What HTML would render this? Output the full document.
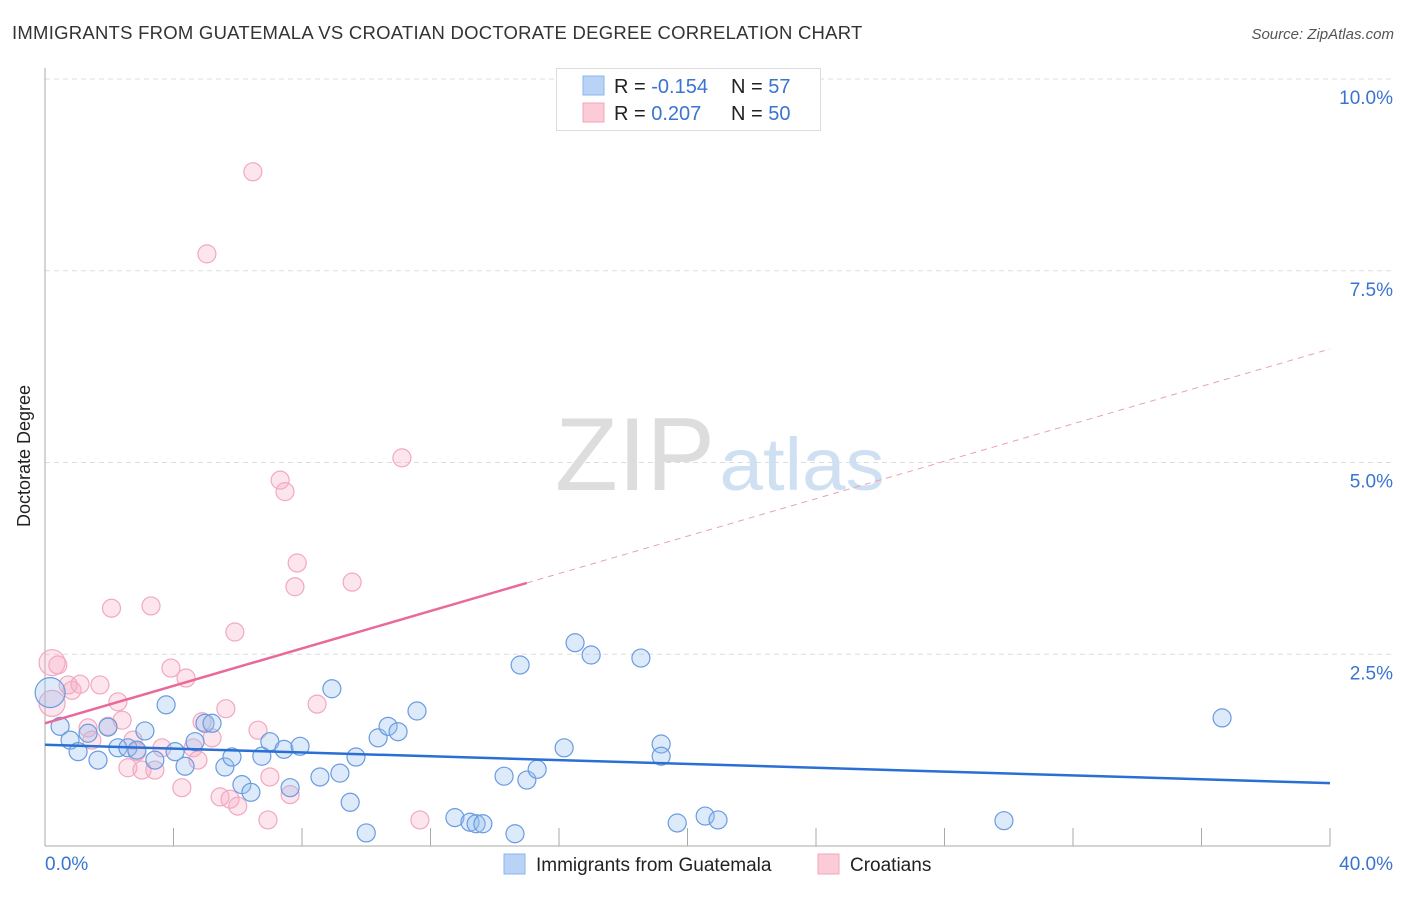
<!DOCTYPE html>
<html><head><meta charset="utf-8"><style>
body{margin:0;background:#fff;font-family:"Liberation Sans",sans-serif;}
svg text{font-family:"Liberation Sans",sans-serif;}
</style></head><body>
<svg id="chart" width="1406" height="892">
<text x="12" y="39" font-size="18.5" letter-spacing="0.25" fill="#333">IMMIGRANTS FROM GUATEMALA VS CROATIAN DOCTORATE DEGREE CORRELATION CHART</text>
<text x="1394" y="39" font-size="15" fill="#555" font-style="italic" text-anchor="end">Source: ZipAtlas.com</text>
<text x="30" y="456" font-size="18" fill="#222" text-anchor="middle" transform="rotate(-90 30 456)">Doctorate Degree</text>
<g id="grid"></g>
<g><text x="635" y="490" font-size="104" fill="#ddd" font-family="Liberation Serif" text-anchor="middle" textLength="160" lengthAdjust="spacingAndGlyphs">ZIP</text><text x="802" y="490" font-size="74" fill="#cfe0f3" text-anchor="middle" textLength="165" lengthAdjust="spacingAndGlyphs">atlas</text></g>
<g id="marks"></g>
<g>
<rect x="556.5" y="68.5" width="264" height="62" fill="#fff" stroke="#ddd"/>
<rect x="583" y="76" width="21" height="19" fill="#b9d3f6" stroke="#8fb5ea"/>
<rect x="583" y="103" width="21" height="19" fill="#fccbd8" stroke="#f2a5bb"/>
<text x="614" y="93" font-size="20" fill="#222">R = <tspan fill="#3a74d0">-0.154</tspan></text>
<text x="731" y="93" font-size="20" fill="#222">N = <tspan fill="#3a74d0"> 57</tspan></text>
<text x="614" y="120" font-size="20" fill="#222">R = <tspan fill="#3a74d0"> 0.207</tspan></text>
<text x="731" y="120" font-size="20" fill="#222">N = <tspan fill="#3a74d0">50</tspan></text>
</g>
<g>
<rect x="504" y="854" width="21" height="20" fill="#b9d3f6" stroke="#8fb5ea"/>
<text x="536" y="871" font-size="19" fill="#222">Immigrants from Guatemala</text>
<rect x="818" y="854" width="21" height="20" fill="#fccbd8" stroke="#f2a5bb"/>
<text x="850" y="871" font-size="19" fill="#222">Croatians</text>
</g>
</svg>
<script>
const xTicks=[0,40];
const yTicks=[2.5,5.0,7.5,10.0];
const blueX=[0.16,0.47,0.78,1.03,1.65,1.34,1.96,2.27,2.58,2.86,3.11,3.42,3.77,4.05,4.36,4.67,4.98,5.2,5.6,5.82,6.13,6.41,6.75,7.0,7.44,7.63,7.94,8.56,8.93,9.18,9.5,9.68,10.0,10.37,10.68,10.99,11.58,12.76,13.23,13.42,13.63,14.29,14.63,14.79,15.0,15.32,16.16,16.5,17.0,18.55,19.18,19.18,19.68,20.55,20.95,29.85,36.64];
const blueY=[2.0,1.56,1.38,1.23,1.12,1.47,1.55,1.28,1.28,1.25,1.5,1.12,1.84,1.23,1.04,1.36,1.6,1.6,1.03,1.16,0.8,0.7,1.17,1.36,1.26,0.76,1.3,0.9,2.05,0.95,0.57,1.16,0.17,1.41,1.56,1.49,1.76,0.37,0.31,0.29,0.29,0.91,0.16,2.36,0.86,1.0,1.28,2.65,2.49,2.45,1.33,1.17,0.3,0.39,0.34,0.33,1.67];
const pinkX=[0.22,0.4,0.72,0.84,1.09,0.22,1.34,1.46,1.71,1.96,2.07,2.27,2.4,2.58,2.74,2.86,3.02,3.3,3.42,3.64,3.92,4.26,4.39,4.61,4.76,4.89,5.04,5.2,5.45,5.63,5.76,5.91,6.0,6.47,6.63,6.94,7.0,7.32,7.47,7.63,7.78,7.85,8.47,9.56,11.11,11.67];
const pinkY=[2.39,2.36,2.1,2.03,2.11,1.86,1.54,1.38,2.1,1.56,3.1,1.88,1.64,1.02,1.38,1.23,0.99,3.13,0.99,1.28,2.32,0.76,2.19,1.28,1.12,1.62,7.72,1.41,0.64,1.79,0.61,2.79,0.52,8.79,1.51,0.34,0.9,4.77,4.62,0.67,3.38,3.69,1.85,3.44,5.06,0.34];
const bigBlue=[0], bigPink=[0,5];
const blueTrend=[1.32,0.82];
const pinkTrend=[1.60,6.48];
const pinkSolidEnd=15;
const NS='http://www.w3.org/2000/svg';
const X=v=>45+v/40*1285, Y=v=>846-v/10*767;
const svg=document.getElementById('chart'), grid=document.getElementById('grid'), marks=document.getElementById('marks');
function mk(tag,at,parent){const e=document.createElementNS(NS,tag);for(const k in at)e.setAttribute(k,at[k]);parent.appendChild(e);return e;}
yTicks.forEach(t=>{
 const l=mk('line',{x1:45,x2:1394,y1:Y(t),y2:Y(t),stroke:'#ddd','stroke-dasharray':'5,4'},grid);
 
 
 const tx=mk('text',{x:1393,y:Y(t)+25,'font-size':19,fill:'#3a74d0','text-anchor':'end'},grid);
 tx.textContent=t.toFixed(1)+'%';
 
 
});
const ax=mk('line',{x1:45,x2:45,y1:68,y2:846,stroke:'#aaa'},grid);


const bx=mk('line',{x1:45,x2:1330,y1:846,y2:846,stroke:'#aaa'},grid);


for(let i=1;i<=10;i++){const t=mk('line',{x1:X(i*4),x2:X(i*4),y1:828,y2:846,stroke:'#aaa'},grid);
 
 }
xTicks.forEach((t,i)=>{const tx=mk('text',{x:i?1393:45,y:870,'font-size':19,fill:'#3a74d0','text-anchor':i?'end':'start'},grid);
 tx.textContent=t.toFixed(1)+'%';
 
 });
pinkX.forEach((v,i)=>{const c=mk('circle',{cx:X(v),cy:Y(pinkY[i]),r:bigPink.includes(i)?13:9,fill:'rgba(247,170,195,0.3)',stroke:'#f2a8bf','stroke-width':1.2},marks);
 
 });
blueX.forEach((v,i)=>{const c=mk('circle',{cx:X(v),cy:Y(blueY[i]),r:bigBlue.includes(i)?15:9,fill:'rgba(150,190,240,0.33)',stroke:'#6a9be0','stroke-width':1.2},marks);
 
 });
const bl=mk('line',{x1:X(0),y1:Y(blueTrend[0]),x2:X(40),y2:Y(blueTrend[1]),stroke:'#2a6fd4','stroke-width':2.5},marks);


const pm=pinkTrend[0]+(pinkTrend[1]-pinkTrend[0])*pinkSolidEnd/40;
const p1=mk('line',{x1:X(0),y1:Y(pinkTrend[0]),x2:X(pinkSolidEnd),y2:Y(pm),stroke:'#e8699a','stroke-width':2.5},marks);


const p2=mk('line',{x1:X(pinkSolidEnd),y1:Y(pm),x2:X(40),y2:Y(pinkTrend[1]),stroke:'#e8a0b8','stroke-width':1,'stroke-dasharray':'6,5'},marks);


</script>
</body></html>
